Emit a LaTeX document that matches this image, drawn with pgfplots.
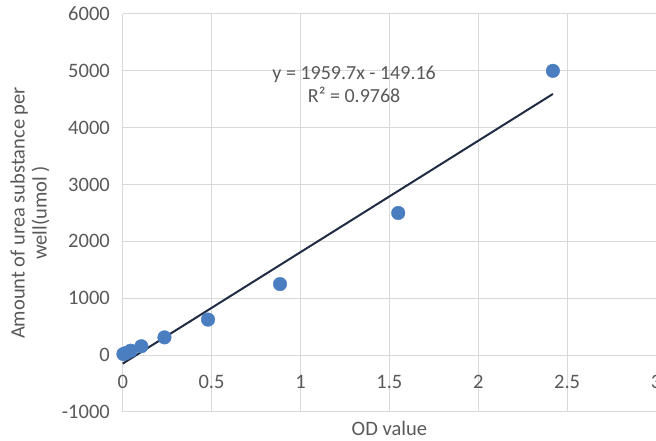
\documentclass[border=0pt]{standalone}
\usepackage{pgfplots}
\pgfplotsset{compat=1.18}
\usepackage{fontspec}
\setmainfont{Carlito}
\usetikzlibrary{calc}
\definecolor{txt}{RGB}{89,89,89}
\definecolor{grd}{RGB}{217,217,217}
\definecolor{ptc}{RGB}{74,126,193}
\definecolor{trend}{RGB}{32,44,68}
\begin{document}
\begin{tikzpicture}
\begin{axis}[
 scale only axis, width=533.3pt, height=398pt,
 xmin=0, xmax=3, ymin=-1000, ymax=6000,
 xtick={0,0.5,1,1.5,2,2.5,3}, ytick={-1000,0,1000,2000,3000,4000,5000,6000},
 grid=major, major grid style={draw=grd, line width=1pt},
 axis line style={draw=none},
 tick style={draw=none},
 clip=false,
 /pgf/number format/assume math mode=true,
 /pgf/number format/1000 sep={},
 ticklabel style={font=\fontsize{20.5}{24}\selectfont, text=txt},
 xticklabel style={anchor=center, inner sep=0pt, yshift=30.3pt},
 yticklabel style={anchor=east, inner sep=0pt, xshift=-12.7pt},
 xlabel={OD value},
 xlabel style={at={(axis description cs:0.5,-0.0425)}, anchor=center, inner sep=0pt, font=\fontsize{20.5}{24}\selectfont, text=txt},
 ylabel={Amount of urea substance per\\well(umol )},
 ylabel style={at={(axis description cs:-0.1738,0.5)}, anchor=center, align=center, font=\fontsize{20.5}{22}\selectfont, text=txt},
]
\addplot[only marks, mark=*, mark size=6.8pt, mark options={fill=ptc, draw=ptc}] coordinates {
 (0.004,19.5) (0.02,39) (0.045,78) (0.105,156) (0.235,312.5) (0.48,625) (0.885,1250) (1.55,2500) (2.42,5000)
};
\addplot[trend, line width=2pt, no marks] coordinates {(0,-149.16) (2.42,4593.3)};
\node[align=center, font=\fontsize{20}{23}\selectfont, text=txt] at (axis cs:1.302,4760) {y = 1959.7x - 149.16\\R² = 0.9768};
\end{axis}
\pgfresetboundingbox
\path ($(current axis.south west)+(-122.7pt,-29pt)$) rectangle ($(current axis.north east)+(0pt,14pt)$);
\end{tikzpicture}
\end{document}
